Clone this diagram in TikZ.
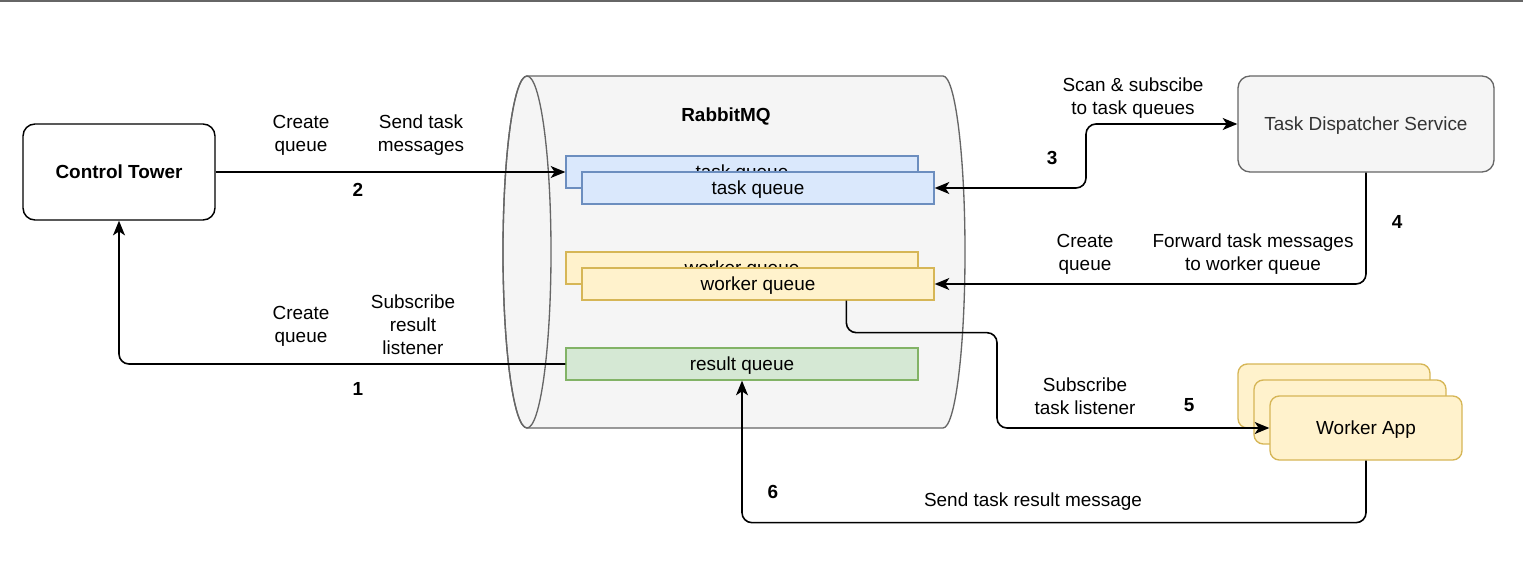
\documentclass[tikz,border=0pt]{standalone}
\usepackage{fontspec}
\setmainfont{Liberation Sans}
\usetikzlibrary{arrows.meta,calc}
\definecolor{cylfill}{HTML}{F5F5F5}
\definecolor{cylline}{HTML}{666666}
\definecolor{darktext}{HTML}{333333}
\definecolor{bluefill}{HTML}{DAE8FC}
\definecolor{blueline}{HTML}{6C8EBF}
\definecolor{yelfill}{HTML}{FFF2CC}
\definecolor{yelline}{HTML}{D6B656}
\definecolor{grnfill}{HTML}{D5E8D4}
\definecolor{grnline}{HTML}{82B366}
\tikzset{
  lbl/.style={font=\fontsize{14.2pt}{17.2pt}\selectfont, align=center, inner sep=0pt, text depth=0pt},
  num/.style={font=\fontsize{14.2pt}{17.2pt}\selectfont\bfseries, inner sep=0pt},
  qbox/.style={draw, line width=1pt, minimum width=264pt, minimum height=24pt, inner sep=0pt,
    text depth=0pt, font=\fontsize{14.2pt}{17.2pt}\selectfont},
  bluq/.style={qbox, fill=bluefill, draw=blueline},
  yelq/.style={qbox, fill=yelfill, draw=yelline},
  grnq/.style={qbox, fill=grnfill, draw=grnline},
  appbox/.style={draw=yelline, fill=yelfill, line width=1pt, rounded corners=7pt,
    minimum width=144pt, minimum height=48pt, inner sep=0pt, text depth=0pt,
    font=\fontsize{14.2pt}{17.2pt}\selectfont},
  mytip/.tip={Stealth[length=11pt,width=9pt,inset=3pt]},
  conn/.style={line width=1.2pt, rounded corners=7.5pt},
  arr/.style={conn, -mytip},
  arrb/.style={conn, mytip-mytip}
}
\begin{document}
\begin{tikzpicture}[x=0.75pt,y=-0.75pt]
\useasboundingbox (0,0) rectangle (1523,563);
\fill[white] (0,0) rectangle (1523,563);
\draw[cylline, line width=1.5pt] (0,1) -- (1523,1);

% cylinder
\draw[fill=cylfill, draw=cylline, line width=1pt]
  (527,76) -- (943,76) arc[start angle=-90, end angle=90, x radius=22, y radius=176]
  -- (527,428) arc[start angle=90, end angle=270, x radius=24, y radius=176] -- cycle;
\draw[cylline, line width=1pt] (527,252) ellipse[x radius=24, y radius=176];
\node[num] (rmq) at (726,117) {RabbitMQ};

% queues
\node[bluq] (tqb) at (742,172) {task queue};
\node[bluq] (tqf) at (758,188) {task queue};
\node[yelq] (wqb) at (742,268) {worker queue};
\node[yelq] (wqf) at (758,284) {worker queue};
\node[grnq] (rq) at (742,364) {result queue};

% main boxes
\node[draw, line width=1.1pt, rounded corners=9pt, minimum width=144pt, minimum height=72pt,
  inner sep=0pt, text depth=0pt, font=\fontsize{14.2pt}{17.2pt}\selectfont\bfseries] (ctrl) at (119,172) {Control Tower};
\node[draw=cylline, fill=cylfill, text=darktext, line width=1pt, rounded corners=9pt,
  minimum width=192pt, minimum height=72pt, inner sep=0pt, text depth=0pt,
  font=\fontsize{14.2pt}{17.2pt}\selectfont] (tds) at (1366,124) {Task Dispatcher Service};

\node[appbox] (wab) at (1334,396) {};
\node[appbox] (wam) at (1350,412) {};
\node[appbox] (waf) at (1366,428) {Worker App};

% connectors
\draw[arr] (ctrl.east) -- (tqb.west);
\draw[arr] (rq.west) -| (ctrl.south);
\draw[arrb] (tqf.east) -- ($(tqf.east)!0.5!(tds.west |- tqf.east)$) |- (tds.west);
\draw[arr] (tds.south) |- (wqf.east);
\coordinate (wqs) at ($(wqf.south)!0.5!(wqf.south east)$);
\draw[arr] (wqs) -- ++(0,32) -| (997,428) -- (waf.west);
\draw[arr] (waf.south) -- ++(0,62) -| (rq.south);

% labels
\node[lbl] (l2a) at (301,133) {Create\\queue};
\node[lbl] (l2b) at (421,133) {Send task\\messages};
\node[num] (n2) at (358,190) {2};
\node[lbl] (l1a) at (301,324) {Create\\queue};
\node[lbl] (l1b) at (413,325) {Subscribe\\result\\listener};
\node[num] (n1) at (358,389) {1};
\node[lbl] (l3) at (1133,96) {Scan \& subscibe\\to task queues};
\node[num] (n3) at (1052,158) {3};
\node[lbl] (l4a) at (1085,252) {Create\\queue};
\node[lbl] (l4b) at (1253,252) {Forward task messages\\to worker queue};
\node[num] (n4) at (1397,222) {4};
\node[lbl] (l5) at (1085,396) {Subscribe\\task listener};
\node[num] (n5) at (1189,405) {5};
\node[lbl] (l6) at (1033,500) {Send task result message};
\node[num] (n6) at (773,492) {6};
\end{tikzpicture}
\end{document}
